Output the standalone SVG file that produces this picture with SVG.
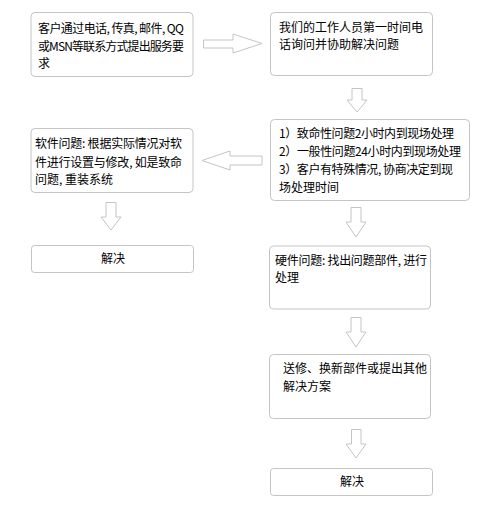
<svg xmlns="http://www.w3.org/2000/svg" width="488" height="523" viewBox="0 0 488 523">
<style>
.box{fill:#fff;stroke:#c4c4c4;stroke-width:1}
.arr{fill:#fff;stroke:#c4c4c4;stroke-width:1;stroke-linejoin:miter}
text{font-family:"Noto Sans CJK SC","Liberation Sans",sans-serif;font-size:12px;fill:#000}
.c{text-anchor:middle}
</style>
<rect width="488" height="523" fill="#fff"/>
<g id="connectors">
<polygon class="arr" points="203.5,40 233,40 233,34 262,43.5 233,53 233,48 203.5,48"/>
<polygon class="arr" points="262,156 230,156 230,151 202,160.5 230,170 230,165 262,165"/>
<polygon class="arr" points="352,88.5 362,88.5 362,100 367,100 357,112 347,100 352,100"/>
<polygon class="arr" points="106,202.5 116,202.5 116,217 121,217 111,230 101,217 106,217"/>
<polygon class="arr" points="351,207.5 361,207.5 361,222 366,222 356,237 346,222 351,222"/>
<polygon class="arr" points="351,317.5 361,317.5 361,332 366,332 356,347 346,332 351,332"/>
<polygon class="arr" points="351.5,429.5 361,429.5 361,444 366,444 356,458 346,444 351.5,444"/>
</g>
<g id="n1">
<rect class="box" x="31" y="12.5" width="162" height="64" rx="4"/>
<text x="38" y="33" textLength="146" lengthAdjust="spacing">客户通过电话, 传真, 邮件, QQ</text>
<text x="38" y="51" textLength="146" lengthAdjust="spacing">或MSN等联系方式提出服务要</text>
<text x="38" y="68">求</text>
</g>
<g id="n2">
<rect class="box" x="270.5" y="12.5" width="162" height="63" rx="4"/>
<text x="279" y="32">我们的工作人员第一时间电</text>
<text x="279" y="49">话询问并协助解决问题</text>
</g>
<g id="n3">
<rect class="box" x="270.5" y="119.5" width="199" height="81" rx="4"/>
<text x="279" y="138" textLength="175" lengthAdjust="spacing">1）致命性问题2小时内到现场处理</text>
<text x="279" y="156" textLength="182" lengthAdjust="spacing">2）一般性问题24小时内到现场处理</text>
<text x="279" y="174" textLength="174" lengthAdjust="spacing">3）客户有特殊情况, 协商决定到现</text>
<text x="279" y="192">场处理时间</text>
</g>
<g id="n4">
<rect class="box" x="31" y="128.5" width="162" height="64" rx="4"/>
<text x="35" y="148" textLength="147" lengthAdjust="spacing">软件问题: 根据实际情况对软</text>
<text x="35" y="167" textLength="147" lengthAdjust="spacing">件进行设置与修改, 如是致命</text>
<text x="35" y="184">问题, 重装系统</text>
</g>
<g id="n5">
<rect class="box" x="31.5" y="245.5" width="162" height="27" rx="3"/>
<text class="c" x="113" y="263">解决</text>
</g>
<g id="n6">
<rect class="box" x="269.5" y="246" width="161" height="63" rx="4"/>
<text x="275" y="265" textLength="152" lengthAdjust="spacing">硬件问题: 找出问题部件, 进行</text>
<text x="275" y="282">处理</text>
</g>
<g id="n7">
<rect class="box" x="269.5" y="354.5" width="161" height="64" rx="4"/>
<text x="283" y="373">送修、换新部件或提出其他</text>
<text x="283" y="391">解决方案</text>
</g>
<g id="n8">
<rect class="box" x="270.5" y="468.5" width="162" height="27" rx="3"/>
<text class="c" x="352" y="486">解决</text>
</g>
</svg>
